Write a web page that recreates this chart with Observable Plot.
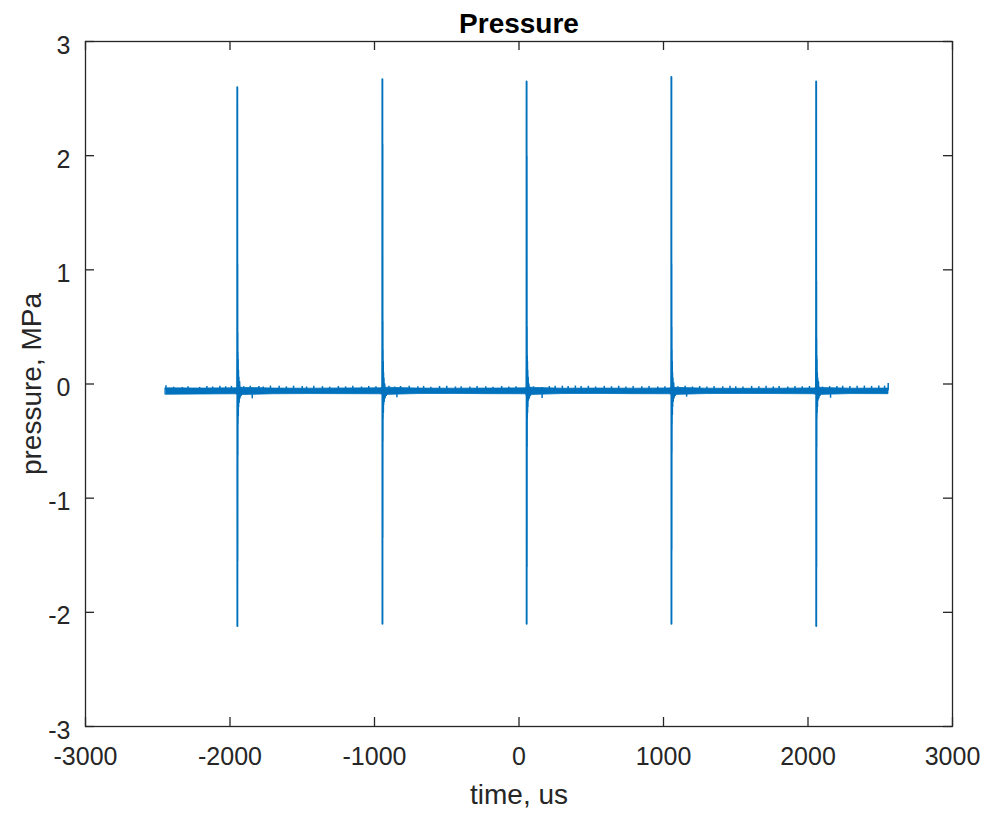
<!DOCTYPE html>
<html>
<head>
<meta charset="utf-8">
<script src="https://cdn.jsdelivr.net/npm/d3@7"></script>
<script src="https://cdn.jsdelivr.net/npm/@observablehq/plot@0.6"></script>
<style>
  html, body { margin: 0; padding: 0; background: white; }
</style>
</head>
<body>
<div id="chart"></div>
<script>
// ---- data ----
const xTicks = [-3000, -2000, -1000, 0, 1000, 2000, 3000];
const yTicks = [-3, -2, -1, 0, 1, 2, 3];

// times of the five pressure pulses (us)
const spikeTimes = [-1950, -946, 52, 1054, 2056];
// sample offsets around each pulse (us)
const spikeOffsets = [-4, -2, -1, 0, 0.5, 1, 1.5, 2, 2.5, 3, 3.5, 4, 5, 6, 7, 8, 10, 12, 15, 18, 22, 26, 30];
const spike1 = [-0.07, -0.05, -0.09, 0.35, 2.60, -2.12, 1.05, -1.55, 0.45, -0.62, 0.28, -0.35, 0.22, -0.28, 0.12, -0.20, 0.06, -0.16, 0.02, -0.12, -0.03, -0.10, -0.06];
const spike2 = [-0.06, -0.08, -0.04, 0.40, 2.67, -2.10, 2.10, -1.35, 0.55, -0.50, 0.30, -0.30, 0.20, -0.25, 0.10, -0.18, 0.05, -0.15, 0.00, -0.12, -0.04, -0.10, -0.06];
const spike3 = [-0.07, -0.05, -0.10, 0.30, 2.65, -2.10, 2.00, -1.60, 0.50, -0.55, 0.25, -0.30, 0.20, -0.25, 0.12, -0.20, 0.06, -0.14, 0.00, -0.12, -0.03, -0.10, -0.06];
const spike4 = [-0.06, -0.08, -0.05, 0.35, 2.69, -2.10, 1.05, -1.45, 0.50, -0.60, 0.30, -0.35, 0.20, -0.27, 0.10, -0.20, 0.05, -0.15, 0.01, -0.12, -0.04, -0.10, -0.06];
const spike5 = [-0.07, -0.05, -0.09, 0.65, 2.65, -2.12, 0.90, -1.60, 0.40, -0.55, 0.25, -0.30, 0.22, -0.25, 0.10, -0.20, 0.05, -0.14, 0.02, -0.12, -0.03, -0.10, -0.06];
const spikeValues = [spike1, spike2, spike3, spike4, spike5];

// baseline noise band (envelope of the noisy baseline)
const bandTime = [-2445, -2200, -1960, -1930, -1700, -1450, -1200, -960, -930, -700, -450, -200, 40, 70, 300, 550, 800, 1040, 1070, 1300, 1550, 1800, 2040, 2070, 2300, 2557];
const bandLow  = [-0.094, -0.092, -0.090, -0.097, -0.090, -0.088, -0.089, -0.090, -0.096, -0.088, -0.087, -0.089, -0.090, -0.097, -0.088, -0.087, -0.089, -0.090, -0.096, -0.088, -0.087, -0.088, -0.090, -0.096, -0.088, -0.089];
const bandHigh = [-0.038, -0.040, -0.038, -0.033, -0.040, -0.041, -0.039, -0.038, -0.032, -0.040, -0.041, -0.040, -0.038, -0.033, -0.041, -0.040, -0.041, -0.039, -0.033, -0.041, -0.042, -0.041, -0.039, -0.034, -0.041, -0.040];

// upward noise excursions on the baseline [time us, top MPa]
const noiseUp = [
  [-2443, -0.015], [-2390, -0.028], [-2330, -0.030], [-2290, -0.025], [-2210, -0.030], [-2160, -0.022],
  [-2120, -0.026], [-2070, -0.020], [-2030, -0.024], [-1990, -0.021], [-1905, -0.024], [-1860, -0.019],
  [-1800, -0.022], [-1770, -0.027], [-1720, -0.018], [-1660, -0.020], [-1610, -0.025], [-1560, -0.019],
  [-1500, -0.021], [-1470, -0.026], [-1420, -0.020], [-1360, -0.023], [-1310, -0.028], [-1250, -0.022],
  [-1200, -0.025], [-1150, -0.020], [-1090, -0.026], [-1040, -0.021], [-990, -0.024], [-900, -0.020],
  [-860, -0.027], [-820, -0.022], [-760, -0.019], [-700, -0.025], [-660, -0.021], [-610, -0.028],
  [-550, -0.022], [-500, -0.020], [-440, -0.026], [-400, -0.023], [-340, -0.027], [-290, -0.021],
  [-230, -0.024], [-180, -0.028], [-120, -0.022], [-70, -0.026], [-20, -0.023], [100, -0.025],
  [160, -0.030], [210, -0.022], [250, -0.020], [300, -0.019], [340, -0.021], [390, -0.018],
  [430, -0.022], [480, -0.020], [530, -0.026], [590, -0.021], [640, -0.024], [690, -0.020],
  [740, -0.027], [790, -0.022], [850, -0.025], [900, -0.021], [960, -0.026], [1010, -0.023],
  [1100, -0.024], [1150, -0.020], [1200, -0.026], [1250, -0.022], [1300, -0.027], [1350, -0.021],
  [1410, -0.024], [1460, -0.019], [1500, -0.023], [1550, -0.026], [1610, -0.021], [1660, -0.024],
  [1710, -0.020], [1760, -0.025], [1800, -0.022], [1860, -0.026], [1910, -0.021], [1960, -0.024],
  [2010, -0.022], [2100, -0.027], [2150, -0.023], [2200, -0.021], [2240, -0.019], [2290, -0.022],
  [2340, -0.020], [2390, -0.018], [2440, -0.021], [2490, -0.017], [2530, -0.019], [2555, 0.005]
];
// small downward dips shortly after each pulse [time us, bottom MPa]
const noiseDown = [[-1846, -0.130], [-845, -0.120], [160, -0.128], [1160, -0.115], [2156, -0.125]];

// ---- build tables from the arrays ----
const spikeData = spikeTimes.flatMap((t0, i) =>
  spikeOffsets.map((o, j) => ({t: t0 + o, p: spikeValues[i][j], id: i})));
const bandData = bandTime.map((t, i) => ({t, low: bandLow[i], high: bandHigh[i]}));
const upData = noiseUp.map(([t, top]) => ({t, top}));
const downData = noiseDown.map(([t, bottom]) => ({t, bottom}));

const blue = "#0072BD";
const axisColor = "#262626";
const W = 988, H = 813, mL = 85, mR = 36, mT = 41, mB = 87;
const frameW = W - mL - mR, frameH = H - mT - mB;
const tickLen = 9;
const fmt = d => String(d);

const chart = Plot.plot({
  width: W,
  height: H,
  marginLeft: mL,
  marginRight: mR,
  marginTop: mT,
  marginBottom: mB,
  style: {
    fontFamily: "'Liberation Sans', Arial, Helvetica, sans-serif",
    fontSize: "25px",
    color: axisColor,
    background: "white",
    overflow: "visible"
  },
  x: {domain: [-3000, 3000]},
  y: {domain: [-3, 3]},
  marks: [
    // baseline noise band
    Plot.areaY(bandData, {x: "t", y1: "low", y2: "high", fill: blue, stroke: blue, strokeWidth: 0.8}),
    Plot.ruleX(upData, {x: "t", y1: -0.06, y2: "top", stroke: blue, strokeWidth: 1.5}),
    Plot.ruleX(downData, {x: "t", y1: -0.06, y2: "bottom", stroke: blue, strokeWidth: 1.5}),
    // pulses
    Plot.line(spikeData, {x: "t", y: "p", z: "id", stroke: blue, strokeWidth: 1.9, curve: "linear"}),
    // box
    Plot.frame({stroke: axisColor, strokeWidth: 1.3}),
    // inward ticks on all four sides
    Plot.tickX(xTicks, {x: d => d, insetTop: frameH - tickLen, stroke: axisColor, strokeWidth: 1.3}),
    Plot.tickX(xTicks, {x: d => d, insetBottom: frameH - tickLen, stroke: axisColor, strokeWidth: 1.3}),
    Plot.tickY(yTicks, {y: d => d, insetRight: frameW - tickLen, stroke: axisColor, strokeWidth: 1.3}),
    Plot.tickY(yTicks, {y: d => d, insetLeft: frameW - tickLen, stroke: axisColor, strokeWidth: 1.3}),
    // tick labels
    Plot.axisX(xTicks, {tickSize: 0, tickPadding: 21, tickFormat: fmt, label: null, fontSize: 25, fill: axisColor}),
    Plot.axisY(yTicks, {tickSize: 0, tickPadding: 15, tickFormat: fmt, label: null, fontSize: 25, fill: axisColor, dy: 4}),
    // axis labels and title
    Plot.text(["time, us"], {frameAnchor: "bottom", dy: 77, lineAnchor: "bottom", fontSize: 28, fill: axisColor}),
    Plot.text(["pressure, MPa"], {frameAnchor: "left", dx: -45, rotate: -90, textAnchor: "middle", lineAnchor: "bottom", fontSize: 28, fill: axisColor}),
    Plot.text(["Pressure"], {frameAnchor: "top", dy: -9, lineAnchor: "bottom", fontSize: 28, fontWeight: "bold", fill: "black"})
  ]
});

document.getElementById("chart").appendChild(chart);
</script>
</body>
</html>
